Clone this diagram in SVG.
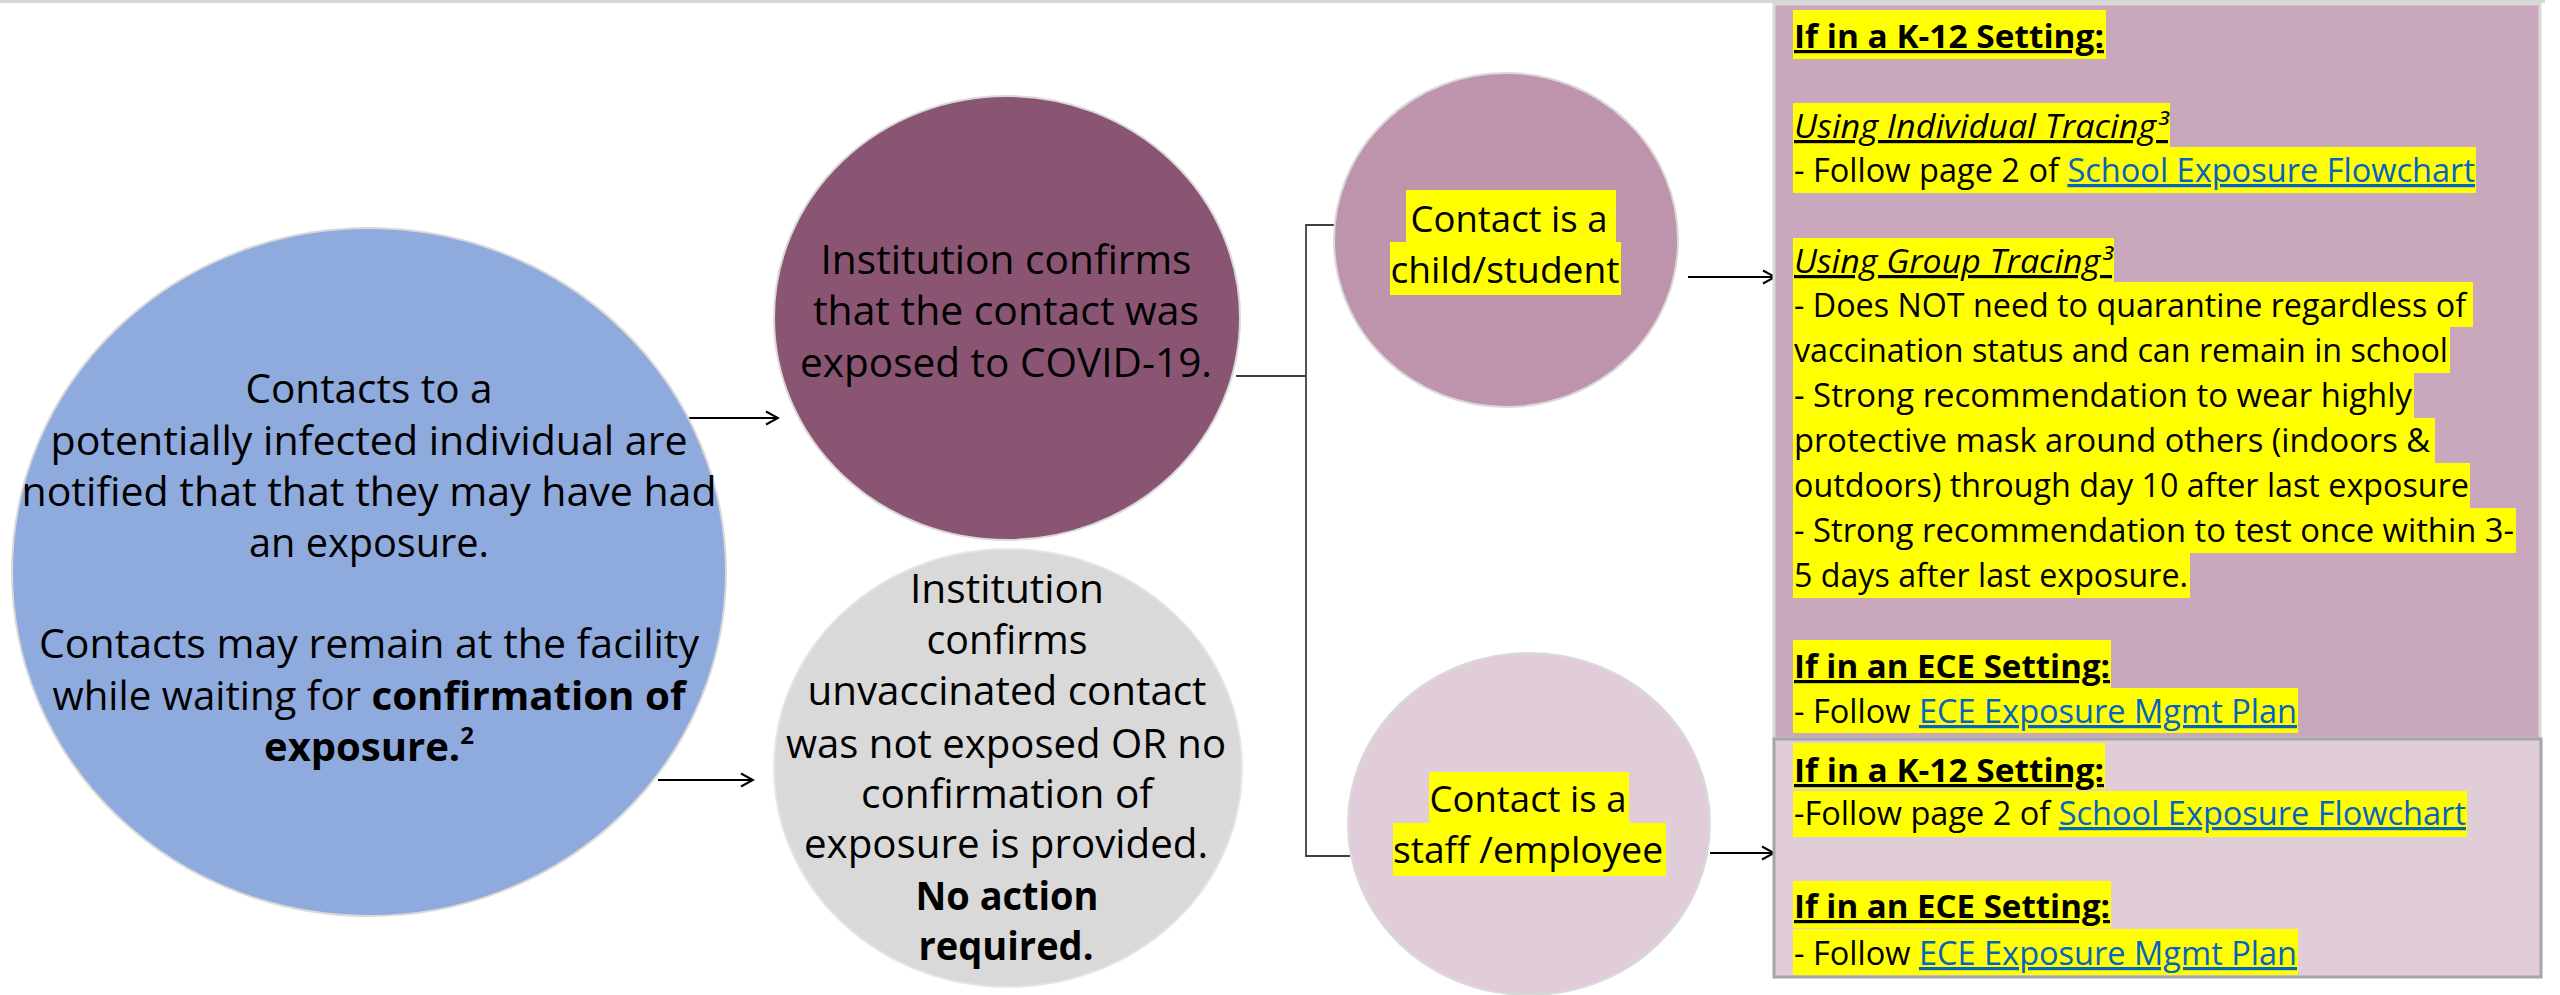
<svg xmlns="http://www.w3.org/2000/svg" width="2560" height="995" viewBox="0 0 2560 995">
<defs>
<marker id="arr" markerUnits="userSpaceOnUse" markerWidth="16" markerHeight="16" refX="14" refY="8" orient="auto">
<path d="M2,1.5 L14,8 L2,14.5" fill="none" stroke="#000" stroke-width="2"/>
</marker>
<style>
.c{font-family:"Open Sans","Noto Sans",sans-serif;font-size:40px;fill:#000;text-anchor:middle}
.s{font-family:"Open Sans","Noto Sans",sans-serif;font-size:37px;fill:#000;text-anchor:middle}
.t{font-family:"Open Sans","Noto Sans",sans-serif;font-size:32px;fill:#000}
.b{font-weight:bold}
.u{text-decoration:underline}
.lk{fill:#0563C1;text-decoration:underline}
.hl{fill:#FFFF00}
.arrow{stroke:#000;stroke-width:2;fill:none;marker-end:url(#arr)}
.conn{stroke:#404040;stroke-width:1.8;fill:none}
</style>
</defs>
<rect width="2560" height="995" fill="#FFFFFF"/>
<line x1="0" y1="1.5" x2="2545" y2="1.5" stroke="#D6D6D6" stroke-width="3"/>

<g id="connectors">
<line class="arrow" x1="683" y1="418" x2="778" y2="418"/>
<line class="arrow" x1="658" y1="780" x2="753" y2="780"/>
<polyline class="conn" points="1236,376 1306,376"/>
<polyline class="conn" points="1336,225 1306,225 1306,856 1350,856"/>
<line class="arrow" x1="1688" y1="277" x2="1775" y2="277"/>
<line class="arrow" x1="1710" y1="853" x2="1774" y2="853"/>
</g>

<g id="node-notified">
<ellipse cx="369" cy="572" rx="357" ry="344" fill="#8FAADC" stroke="#D9D9D9" stroke-width="2"/>
<text class="c" x="369" y="403" textLength="247" lengthAdjust="spacingAndGlyphs">Contacts to a</text>
<text class="c" x="369" y="455" textLength="637" lengthAdjust="spacingAndGlyphs">potentially infected individual are</text>
<text class="c" x="369" y="506" textLength="695" lengthAdjust="spacingAndGlyphs">notified that that they may have had</text>
<text class="c" x="369" y="557" textLength="240" lengthAdjust="spacingAndGlyphs">an exposure.</text>
<text class="c" x="369" y="658" textLength="660" lengthAdjust="spacingAndGlyphs">Contacts may remain at the facility</text>
<text class="c" x="369" y="710" textLength="633" lengthAdjust="spacingAndGlyphs">while waiting for <tspan class="b">confirmation of</tspan></text>
<text class="c b" x="369" y="761"><tspan>exposure.</tspan><tspan font-size="24" dy="-17">2</tspan></text>
</g>

<g id="node-confirmed">
<ellipse cx="1007" cy="318" rx="233" ry="222" fill="#8A5572" stroke="#D9D9D9" stroke-width="2"/>
<text class="c" x="1006" y="274" textLength="371" lengthAdjust="spacingAndGlyphs">Institution confirms</text>
<text class="c" x="1006" y="325" textLength="386" lengthAdjust="spacingAndGlyphs">that the contact was</text>
<text class="c" x="1006" y="377" textLength="412" lengthAdjust="spacingAndGlyphs">exposed to COVID-19.</text>
</g>

<g id="node-not-exposed">
<ellipse cx="1008" cy="768" rx="234" ry="219" fill="#D9D9D9" stroke="#E6E6E6" stroke-width="2"/>
<text class="c" x="1007" y="603" textLength="194" lengthAdjust="spacingAndGlyphs">Institution</text>
<text class="c" x="1007" y="654" textLength="161" lengthAdjust="spacingAndGlyphs">confirms</text>
<text class="c" x="1007" y="705" textLength="399" lengthAdjust="spacingAndGlyphs">unvaccinated contact</text>
<text class="c" x="1006" y="758" textLength="440" lengthAdjust="spacingAndGlyphs">was not exposed OR no</text>
<text class="c" x="1007" y="808" textLength="292" lengthAdjust="spacingAndGlyphs">confirmation of</text>
<text class="c" x="1006" y="858" textLength="404" lengthAdjust="spacingAndGlyphs">exposure is provided.</text>
<text class="c b" x="1007" y="910" textLength="183" lengthAdjust="spacingAndGlyphs">No action</text>
<text class="c b" x="1006" y="960" textLength="175" lengthAdjust="spacingAndGlyphs">required.</text>
</g>

<g id="node-child">
<ellipse cx="1506" cy="240" rx="172" ry="167" fill="#BE94AC" stroke="#D9D9D9" stroke-width="2"/>
<rect class="hl" x="1406" y="190" width="210" height="53"/>
<rect class="hl" x="1390" y="242" width="231" height="53"/>
<text class="s" x="1509" y="232" textLength="197" lengthAdjust="spacingAndGlyphs">Contact is a</text>
<text class="s" x="1505" y="283" textLength="229" lengthAdjust="spacingAndGlyphs">child/student</text>
</g>

<g id="node-staff">
<ellipse cx="1529" cy="824" rx="181" ry="171" fill="#E0CDD9" stroke="#D9D9D9" stroke-width="2"/>
<rect class="hl" x="1429" y="772" width="200" height="52"/>
<rect class="hl" x="1393" y="823" width="273" height="53"/>
<text class="s" x="1528" y="812" textLength="197" lengthAdjust="spacingAndGlyphs">Contact is a</text>
<text class="s" x="1528" y="863" textLength="270" lengthAdjust="spacingAndGlyphs">staff /employee</text>
</g>

<g id="node-child-guidance">
<rect x="1774" y="4" width="766" height="735" fill="#C9A7BC" stroke="#D9D9D9" stroke-width="3"/>
<rect class="hl" x="1793" y="10" width="313" height="49"/>
<rect class="hl" x="1793" y="103" width="377" height="44"/>
<rect class="hl" x="1793" y="147" width="683" height="46"/>
<rect class="hl" x="1793" y="238" width="321" height="44"/>
<rect class="hl" x="1793" y="282" width="680" height="45"/>
<rect class="hl" x="1793" y="327" width="657" height="46"/>
<rect class="hl" x="1793" y="373" width="621" height="45"/>
<rect class="hl" x="1793" y="418" width="642" height="45"/>
<rect class="hl" x="1793" y="463" width="677" height="45"/>
<rect class="hl" x="1793" y="508" width="723" height="45"/>
<rect class="hl" x="1793" y="553" width="397" height="45"/>
<rect class="hl" x="1793" y="640" width="318" height="48"/>
<rect class="hl" x="1793" y="688" width="505" height="45"/>
<text class="t b u" x="1794" y="48" textLength="310" lengthAdjust="spacingAndGlyphs">If in a K-12 Setting:</text>
<text class="t u" x="1794" y="138" font-style="italic" textLength="374" lengthAdjust="spacingAndGlyphs">Using Individual Tracing³</text>
<text class="t" x="1794" y="182" textLength="681" lengthAdjust="spacingAndGlyphs">- Follow page 2 of <tspan class="lk">School Exposure Flowchart</tspan></text>
<text class="t u" x="1794" y="273" font-style="italic" textLength="318" lengthAdjust="spacingAndGlyphs">Using Group Tracing³</text>
<text class="t" x="1794" y="317" textLength="672" lengthAdjust="spacingAndGlyphs">- Does NOT need to quarantine regardless of</text>
<text class="t" x="1794" y="362" textLength="654" lengthAdjust="spacingAndGlyphs">vaccination status and can remain in school</text>
<text class="t" x="1794" y="407" textLength="618" lengthAdjust="spacingAndGlyphs">- Strong recommendation to wear highly</text>
<text class="t" x="1794" y="452" textLength="636" lengthAdjust="spacingAndGlyphs">protective mask around others (indoors &amp;</text>
<text class="t" x="1794" y="497" textLength="675" lengthAdjust="spacingAndGlyphs">outdoors) through day 10 after last exposure</text>
<text class="t" x="1794" y="542" textLength="720" lengthAdjust="spacingAndGlyphs">- Strong recommendation to test once within 3-</text>
<text class="t" x="1794" y="587" textLength="394" lengthAdjust="spacingAndGlyphs">5 days after last exposure.</text>
<text class="t b u" x="1794" y="678" textLength="316" lengthAdjust="spacingAndGlyphs">If in an ECE Setting:</text>
<text class="t" x="1794" y="723" textLength="503" lengthAdjust="spacingAndGlyphs">- Follow <tspan class="lk">ECE Exposure Mgmt Plan</tspan></text>
</g>

<g id="node-staff-guidance">
<rect x="1774" y="739" width="767" height="238" fill="#E0CDD8" stroke="#A6A6A6" stroke-width="3"/>
<rect class="hl" x="1793" y="743" width="312" height="46"/>
<rect class="hl" x="1793" y="791" width="674" height="46"/>
<rect class="hl" x="1793" y="881" width="318" height="47"/>
<rect class="hl" x="1793" y="929" width="505" height="46"/>
<text class="t b u" x="1794" y="782" textLength="310" lengthAdjust="spacingAndGlyphs">If in a K-12 Setting:</text>
<text class="t" x="1794" y="825" textLength="672" lengthAdjust="spacingAndGlyphs">-Follow page 2 of <tspan class="lk">School Exposure Flowchart</tspan></text>
<text class="t b u" x="1794" y="918" textLength="316" lengthAdjust="spacingAndGlyphs">If in an ECE Setting:</text>
<text class="t" x="1794" y="965" textLength="503" lengthAdjust="spacingAndGlyphs">- Follow <tspan class="lk">ECE Exposure Mgmt Plan</tspan></text>
</g>
</svg>
